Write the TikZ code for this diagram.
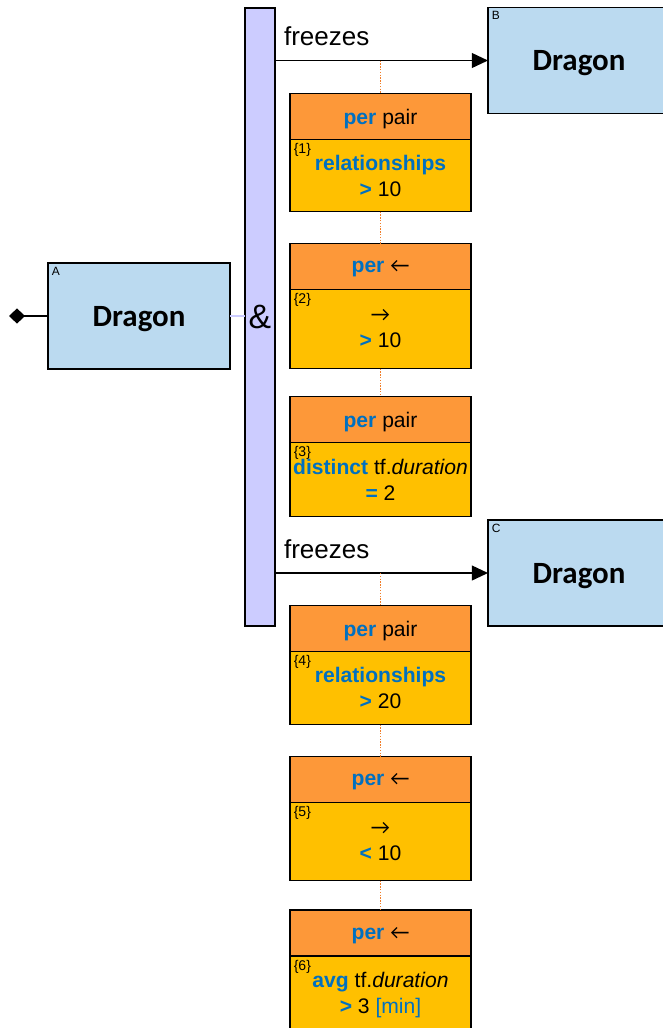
\documentclass[tikz,border=0pt]{standalone}
\usepackage{fontspec}
\setmainfont{Liberation Sans}
\newfontfamily\dragonfont{Carlito}
\usetikzlibrary{arrows.meta,positioning}
\definecolor{entfill}{RGB}{187,218,240}
\definecolor{barfill}{RGB}{204,204,255}
\definecolor{hdrfill}{RGB}{253,152,57}
\definecolor{condfill}{RGB}{255,192,0}
\definecolor{kwblue}{RGB}{0,112,192}
\definecolor{dotorange}{RGB}{240,125,40}
\newcommand{\kwd}[1]{\textcolor{kwblue}{\bfseries #1}}
\newcommand{\larr}{{\dragonfont ←}}
\newcommand{\rarr}{{\dragonfont →}}

\begin{document}
\begin{tikzpicture}[x=0.025cm,y=-0.025cm,
 ent/.style={draw,line width=.9pt,fill=entfill,minimum width=4.55cm,minimum height=2.65cm,outer sep=0pt,text depth=0pt,font=\dragonfont\bfseries\fontsize{22}{26}\selectfont},
 tag/.style={anchor=north west,inner sep=2.5pt,font=\fontsize{8.5}{9}\selectfont},
 hdr/.style={draw,line width=.9pt,fill=hdrfill,minimum width=4.525cm,minimum height=1.15cm,outer sep=0pt,text depth=0pt,font=\fontsize{15}{18}\selectfont},
 cond/.style={draw,line width=.9pt,fill=condfill,minimum width=4.525cm,inner sep=1pt,outer sep=0pt,align=center,font=\fontsize{15}{18.5}\selectfont},
 idx/.style={anchor=north west,inner sep=2.5pt,font=\fontsize{10}{11}\selectfont},
 a/.style={-{Triangle[length=.4cm,width=.37cm]},line width=.9pt},
 lbl/.style={anchor=south west,inner sep=6pt,yshift=4pt,font=\fontsize{18.5}{22}\selectfont},
 dot/.style={draw=dotorange,densely dotted,line width=1pt}]
\useasboundingbox (0,0) rectangle (663,1028);
% entities
\node[ent] (entA) at (139,316) {Dragon};
\node[tag] (tagA) at (entA.north west) {A};
\node[ent] (entB) at (579,60.5) {Dragon};
\node[tag] (tagB) at (entB.north west) {B};
\node[ent] (entC) at (579,573) {Dragon};
\node[tag] (tagC) at (entC.north west) {C};
\node[draw,line width=.9pt,fill=barfill,minimum width=.75cm,minimum height=15.45cm,inner sep=0pt,outer sep=0pt,font=\fontsize{24}{28}\selectfont] (bar) at (260,317) {\&};
\coordinate (root) at (9,316);
% constraints
\node[hdr] (h1) at (380.5,116.5) {\kwd{per} pair};
\node[cond,below=0pt of h1,minimum height=1.8cm] (b1) {\kwd{relationships}\\\kwd{>} 10};
\node[idx] (i1) at (b1.north west) {\{1\}};
\node[hdr] (h2) at (380.5,266.5) {\kwd{per} \larr};
\node[cond,below=0pt of h2,minimum height=1.975cm] (b2) {\rarr\\\kwd{>} 10};
\node[idx] (i2) at (b2.north west) {\{2\}};
\node[hdr] (h3) at (380.5,419.5) {\kwd{per} pair};
\node[cond,below=0pt of h3,minimum height=1.85cm] (b3) {\kwd{distinct} tf.\textit{duration}\\\kwd{=} 2};
\node[idx] (i3) at (b3.north west) {\{3\}};
\node[hdr] (h4) at (380.5,628.5) {\kwd{per} pair};
\node[cond,below=0pt of h4,minimum height=1.825cm] (b4) {\kwd{relationships}\\\kwd{>} 20};
\node[idx] (i4) at (b4.north west) {\{4\}};
\node[hdr] (h5) at (380.5,779.5) {\kwd{per} \larr};
\node[cond,below=0pt of h5,minimum height=1.95cm] (b5) {\rarr\\\kwd{<} 10};
\node[idx] (i5) at (b5.north west) {\{5\}};
\node[hdr] (h6) at (380.5,933) {\kwd{per} \larr};
\node[cond,below=0pt of h6,minimum height=1.975cm] (b6) {\kwd{avg} tf.\textit{duration}\\\kwd{>} 3 \textcolor{kwblue}{[min]}};
\node[idx] (i6) at (b6.north west) {\{6\}};
% connectors
\draw[{Diamond[length=.4cm,width=.38cm]}-,line width=.9pt] (root) -- (entA.west);
\draw[barfill,line width=.8pt] (entA.east) -- (bar.west |- entA.east);
\draw[a] (bar.east |- entB.west) -- node[lbl,pos=0] {freezes} (entB.west);
\draw[a] (bar.east |- entC.west) -- node[lbl,pos=0] {freezes} (entC.west);
\draw[dot] (h1 |- entB.west) -- (h1.north) (b1.south) -- (h2.north) (b2.south) -- (h3.north);
\draw[dot] (h4 |- entC.west) -- (h4.north) (b4.south) -- (h5.north) (b5.south) -- (h6.north);
\end{tikzpicture}
\end{document}
